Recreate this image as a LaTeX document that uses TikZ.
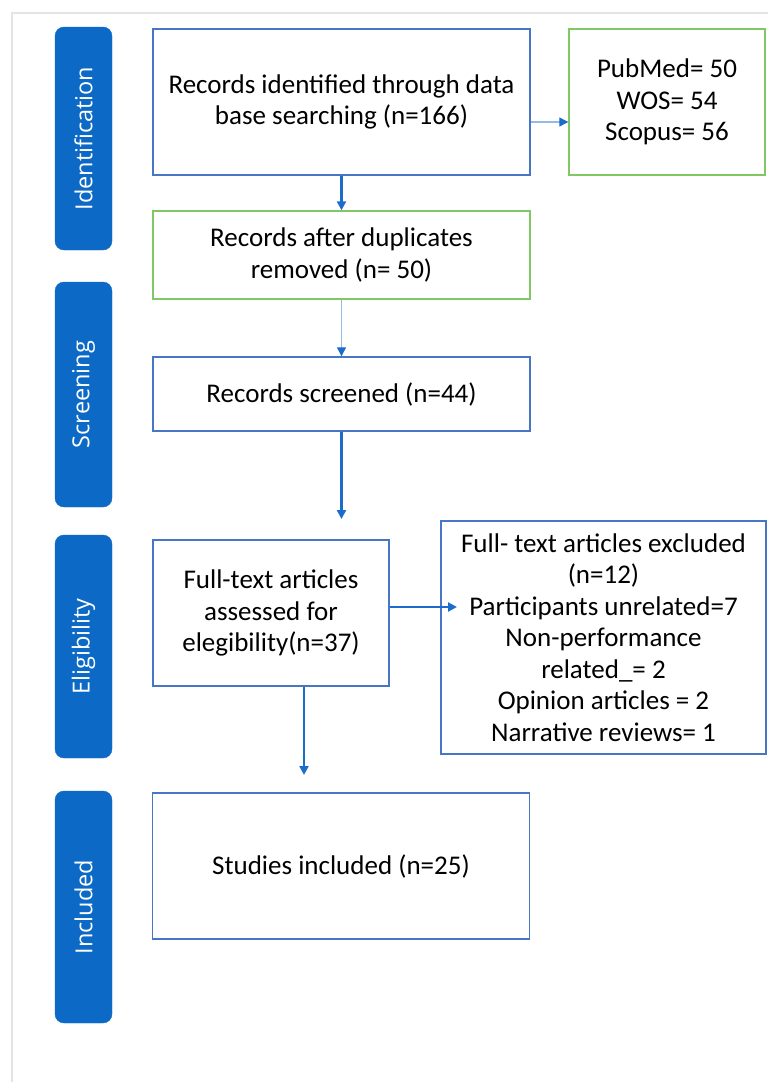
\documentclass[tikz,border=0pt]{standalone}
\usepackage{fontspec}
\setmainfont{Carlito}
\newfontfamily\tabfont{Open Sans}
\usetikzlibrary{arrows.meta}
\definecolor{tabblue}{RGB}{12,106,198}
\definecolor{boxblue}{RGB}{70,118,196}
\definecolor{boxgreen}{RGB}{128,200,100}
\definecolor{arrowblue}{RGB}{28,108,204}
\definecolor{paleblue}{RGB}{150,186,232}
\definecolor{framegray}{RGB}{228,228,228}
\begin{document}
\begin{tikzpicture}[x=1pt,y=-1pt,
  phase/.style={fill=tabblue,draw=tabblue,rounded corners=9pt,rotate=90,minimum height=57pt,inner sep=0pt,text=white,font=\tabfont\fontsize{23.5}{28}\selectfont},
  stepbox/.style={draw=boxblue,line width=1.4pt,inner sep=0pt,align=center,font=\fontsize{27}{31.5}\selectfont},
  greenbox/.style={stepbox,draw=boxgreen},
  thickarrow/.style={arrowblue,line width=2.4pt,-{Triangle[length=9pt,width=9pt]}},
  thinarrow/.style={paleblue,line width=1.2pt,-{Triangle[length=9pt,width=9pt,color=arrowblue]}}]
\useasboundingbox (0,0) rectangle (768,1082);
\draw[framegray,line width=2pt] (12,1082) -- (12,13) -- (768,13);
%Phases
\node[phase,minimum width=223pt] (identification) at (83.5,138.5) {Identification};
\node[phase,minimum width=225pt] (screening) at (83.5,394.5) {Screening};
\node[phase,minimum width=223pt] (eligibility) at (83.5,646.5) {Eligibility};
\node[phase,minimum width=232pt] (included) at (83.5,907) {Included};
%Boxes
\node[stepbox,minimum width=377pt,minimum height=146pt] (records) at (341.5,102) {Records identified through data\\base searching (n=166)};
\node[greenbox,minimum width=196pt,minimum height=146pt] (sources) at (667,102) {PubMed= 50\\WOS= 54\\Scopus= 56};
\node[greenbox,minimum width=377pt,minimum height=88pt] (duplicates) at (341.5,255) {Records after duplicates\\removed (n= 50)};
\node[stepbox,minimum width=377pt,minimum height=74pt] (screened) at (341.5,394) {Records screened (n=44)};
\node[stepbox,minimum width=236pt,minimum height=146pt] (fulltext) at (271,613) {Full-text articles\\assessed for\\elegibility(n=37)};
\node[stepbox,minimum width=325pt,minimum height=233pt] (excluded) at (603.5,637.5) {Full- text articles excluded\\(n=12)\\Participants unrelated=7\\Non-performance\\related\_= 2\\Opinion articles = 2\\Narrative reviews= 1};
\node[stepbox,minimum width=377pt,minimum height=146pt] (studies) at (341,866) {Studies included (n=25)};
%Arrows
\coordinate (toscreen) at (341.5,519);
\coordinate (toexcl) at (457,607);
\coordinate (toincl) at (304,775);
\draw[thinarrow] (records.east) ++(0,20) coordinate (fromrec) -- (fromrec -| sources.west);
\draw[thickarrow] (records.south) -- (duplicates.north);
\draw[thinarrow] (duplicates.south) -- (screened.north);
\draw[thickarrow] (screened.south) -- (toscreen);
\draw[thickarrow] (fulltext.east |- toexcl) -- (toexcl);
\draw[thickarrow] (fulltext.south -| toincl) -- (toincl);
\end{tikzpicture}
\end{document}
